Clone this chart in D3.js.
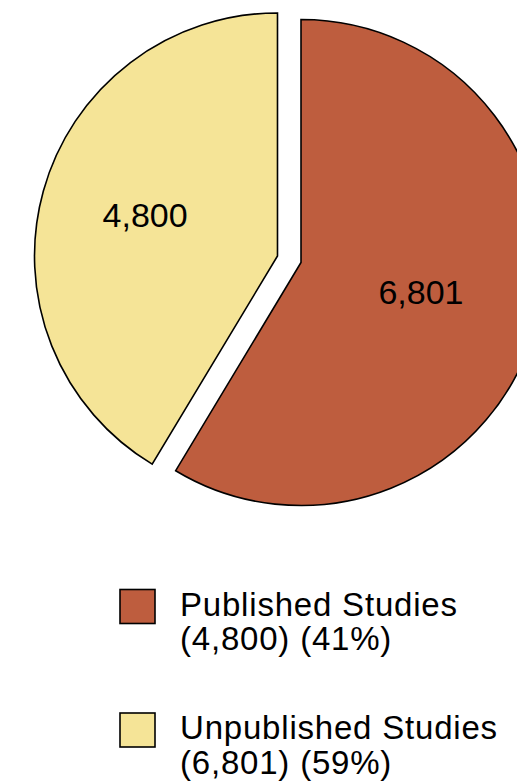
<!DOCTYPE html>
<html>
<head>
<meta charset="utf-8">
<script src="https://cdn.jsdelivr.net/npm/d3@7"></script>
<style>
  html, body { margin: 0; padding: 0; background: #fff; }
  svg { display: block; font-family: "Liberation Sans", Arial, Helvetica, sans-serif; }
</style>
</head>
<body>
<svg id="chart" width="517" height="781"></svg>
<script>
// Slice values, drawn clockwise from 12 o'clock
const sliceValues = [6801, 4800];
const sliceColors = ["#BE5D3E", "#F5E497"];

// Legend entries
const legendNames = ["Published Studies", "Unpublished Studies"];
const legendCounts = [4800, 6801];
const legendColors = ["#BE5D3E", "#F5E497"];

// Layout
const W = 517, H = 781;
const cx = 289.25, cy = 259.25;
const radius = 243;
const explode = 12.2;
const labelDist = [124.5, 137.4];

const svg = d3.select("#chart");
const fmt = d3.format(",");

const pie = d3.pie().sort(null).value(d => d);
const arc = d3.arc().innerRadius(0).outerRadius(radius);
const arcs = pie(sliceValues);

const g = svg.append("g");

arcs.forEach((a, i) => {
  const mid = (a.startAngle + a.endAngle) / 2;
  const ux = Math.sin(mid), uy = -Math.cos(mid);
  const ox = cx + ux * explode, oy = cy + uy * explode;
  const sg = g.append("g").attr("transform", `translate(${ox},${oy})`);
  sg.append("path")
    .attr("d", arc(a))
    .attr("fill", sliceColors[i])
    .attr("stroke", "#000")
    .attr("stroke-width", 1.6)
    .attr("stroke-linejoin", "miter");
  sg.append("text")
    .attr("x", ux * labelDist[i])
    .attr("y", uy * labelDist[i] + 8)
    .attr("text-anchor", "middle")
    .attr("font-size", 34)
    .attr("fill", "#000")
    .text(fmt(a.data));
});

// Legend
const total = d3.sum(legendCounts);
const legendY = [589.5, 713];
const lg = svg.append("g");
legendNames.forEach((name, i) => {
  const y0 = legendY[i];
  lg.append("rect")
    .attr("x", 120).attr("y", y0)
    .attr("width", 35).attr("height", 34)
    .attr("fill", legendColors[i])
    .attr("stroke", "#000")
    .attr("stroke-width", 1.6);
  const t = lg.append("text")
    .attr("x", 180)
    .attr("font-size", 33)
    .attr("letter-spacing", 0.8)
    .attr("fill", "#000");
  t.append("tspan").attr("x", 180).attr("y", y0 + 26).text(name);
  t.append("tspan").attr("x", 180).attr("y", y0 + 60.5)
    .text(`(${fmt(legendCounts[i])}) (${Math.round(legendCounts[i] / total * 100)}%)`);
});
</script>
</body>
</html>
